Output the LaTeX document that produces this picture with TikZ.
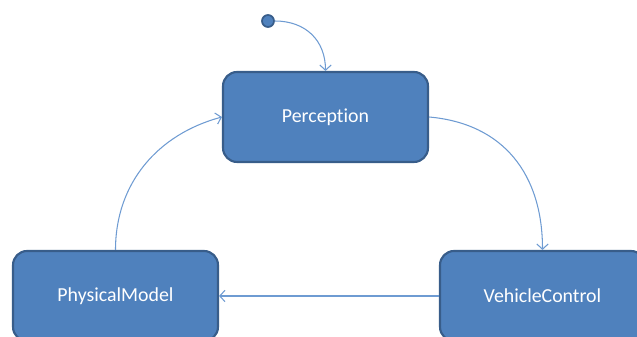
\documentclass[tikz,border=0pt]{standalone}
\usepackage{fontspec}
\setmainfont{Carlito}[Ligatures=NoCommon]
\usetikzlibrary{arrows.meta}

\begin{document}
\begin{tikzpicture}[x=0.02cm,y=-0.02cm,
  statebox/.style={draw=borderblue,line width=1.2pt,fill=officeblue,rounded corners=0.28cm,
    minimum width=4.1cm,minimum height=1.8cm,text=white,font=\fontsize{11.3}{13}\selectfont},
  flow/.style={draw=lineblue,line width=0.6pt,-{Straight Barb[length=3pt,width=6.5pt]}}]
\definecolor{officeblue}{RGB}{79,129,189}
\definecolor{borderblue}{RGB}{56,93,138}
\definecolor{lineblue}{RGB}{110,155,210}
\useasboundingbox (0,0) rectangle (637,337);
\node[statebox] (perception) at (325.5,117) {Perception};
\node[statebox] (physical) at (115.5,296) {PhysicalModel};
\node[statebox] (vehicle) at (542.5,296) {VehicleControl};
\node[circle,draw=borderblue,line width=1pt,fill=officeblue,inner sep=0pt,minimum size=0.24cm] (init) at (268,21) {};
\draw[flow] (init.east) to[out=0,in=90,looseness=1.1] (perception.north);
\draw[flow] (perception.east) to[out=-5,in=90,looseness=1.1] (vehicle.north);
\draw[flow] (vehicle.west) -- (physical.east);
\draw[flow] (physical.north) to[out=90,in=195,looseness=1] (perception.west);
\end{tikzpicture}
\end{document}
